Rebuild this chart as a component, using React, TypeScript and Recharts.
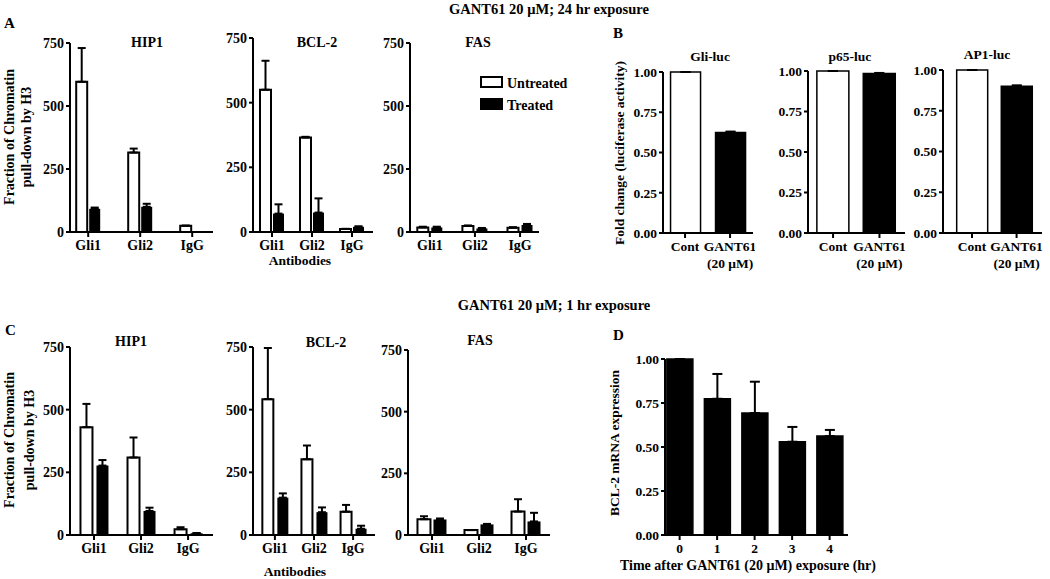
import React from "react";
import { BarChart, Bar, XAxis, YAxis, ErrorBar, Cell } from "recharts";

const FONT = "'Liberation Serif', 'Times New Roman', serif";

// categories / tick labels
const antibodies = ["Gli1", "Gli2", "IgG"];
const chipTicks = [0, 250, 500, 750];
const lucLabels = ["Cont", "GANT61\n(20 μM)"];
const foldTicks = [0, 0.25, 0.5, 0.75, 1];
const hours = ["0", "1", "2", "3", "4"];

// A: 24 hr exposure (untreated / treated, upper error)
const a24Hip1U = [596, 315, 25];
const a24Hip1UErr = [134, 16, 0];
const a24Hip1T = [92, 100, 0];
const a24Hip1TErr = [5, 12, 0];
const a24Bcl2U = [550, 365, 12];
const a24Bcl2UErr = [112, 3, 0];
const a24Bcl2T = [71, 75, 20];
const a24Bcl2TErr = [36, 55, 2];
const a24FasU = [18, 24, 17];
const a24FasUErr = [3, 2, 2];
const a24FasT = [18, 14, 28];
const a24FasTErr = [3, 2, 4];

// B: luciferase fold change
const gliLuc = [1.0, 0.625];
const gliLucErr = [0, 0.005];
const p65Luc = [1.0, 0.985];
const p65LucErr = [0, 0.003];
const ap1Luc = [1.0, 0.9];
const ap1LucErr = [0, 0.006];

// C: 1 hr exposure
const c1Hip1U = [430, 309, 23];
const c1Hip1UErr = [93, 80, 8];
const c1Hip1T = [277, 96, 7];
const c1Hip1TErr = [22, 13, 1];
const c1Bcl2U = [542, 302, 93];
const c1Bcl2UErr = [204, 55, 27];
const c1Bcl2T = [149, 91, 25];
const c1Bcl2TErr = [17, 19, 12];
const c1FasU = [64, 20, 95];
const c1FasUErr = [12, 0, 50];
const c1FasT = [63, 43, 55];
const c1FasTErr = [4, 2, 35];

// D: BCL-2 mRNA over time
const bcl2Mrna = [1.0, 0.774, 0.693, 0.53, 0.562];
const bcl2MrnaErr = [0, 0.141, 0.178, 0.084, 0.035];

const chipRows = (u: number[], ue: number[], t: number[], te: number[]) =>
  antibodies.map((name, i) => ({
    x: i,
    name,
    u: u[i],
    uErr: [0, ue[i]],
    t: t[i],
    tErr: [0, te[i]],
  }));

const singleRows = (v: number[], e: number[]) =>
  v.map((val, i) => ({ x: i, v: val, e: [0, e[i]] }));

const axisLine = { stroke: "#000", strokeWidth: 2 };

type Geo = {
  left: number;
  right: number;
  top: number;
  bottom: number;
  dMin: number;
  dMax: number;
  barSize: number;
  gap: number;
};

const Y_W = 50;
const X_H = 45;
const M_T = 6;

function Frame({ g, children }: { g: Geo; children: (w: number, h: number) => React.ReactNode }) {
  const w = Y_W + (g.right - g.left) + 2;
  const h = M_T + (g.bottom - g.top) + X_H;
  return (
    <div style={{ position: "absolute", left: g.left - Y_W, top: g.top - M_T }}>
      {children(w, h)}
    </div>
  );
}

function MultiTick(props: any) {
  const { x, y, payload, labels, size } = props;
  const label = labels[payload.value] ?? "";
  const lines = String(label).split("\n");
  return (
    <text
      x={x}
      y={y}
      textAnchor="middle"
      fontFamily={FONT}
      fontSize={size}
      fontWeight="bold"
      fill="#000"
    >
      {lines.map((l: string, i: number) => (
        <tspan key={i} x={x} dy={i === 0 ? "0.85em" : "1.2em"}>
          {l}
        </tspan>
      ))}
    </text>
  );
}

function ChipPanel({ rows, g }: { rows: any[]; g: Geo }) {
  return (
    <Frame g={g}>
      {(w, h) => (
        <BarChart
          width={w}
          height={h}
          data={rows}
          margin={{ top: M_T, right: 2, bottom: 0, left: 0 }}
          barGap={g.gap}
        >
          <XAxis
            type="number"
            dataKey="x"
            domain={[g.dMin, g.dMax]}
            ticks={[0, 1, 2]}
            interval={0}
            allowDataOverflow
            height={X_H}
            axisLine={axisLine}
            tickLine={axisLine}
            tickSize={5}
            tickMargin={1}
            tick={<MultiTick labels={antibodies} size={14} />}
          />
          <YAxis
            domain={[0, 750]}
            ticks={chipTicks}
            interval={0}
            width={Y_W}
            axisLine={axisLine}
            tickLine={axisLine}
            tickSize={4}
            tickMargin={2}
            tick={{ fontFamily: FONT, fontSize: 14, fontWeight: "bold", fill: "#000" }}
          />
          <Bar
            dataKey="u"
            fill="#fff"
            stroke="#000"
            strokeWidth={2}
            barSize={g.barSize}
            isAnimationActive={false}
          >
            <ErrorBar dataKey="uErr" width={4} stroke="#000" strokeWidth={2} direction="y" />
          </Bar>
          <Bar dataKey="t" fill="#000" barSize={g.barSize} isAnimationActive={false}>
            <ErrorBar dataKey="tErr" width={4} stroke="#000" strokeWidth={2} direction="y" />
          </Bar>
        </BarChart>
      )}
    </Frame>
  );
}

function SinglePanel({
  rows,
  g,
  labels,
  fills,
}: {
  rows: any[];
  g: Geo;
  labels: string[];
  fills: string[];
}) {
  return (
    <Frame g={g}>
      {(w, h) => (
        <BarChart
          width={w}
          height={h}
          data={rows}
          margin={{ top: M_T, right: 2, bottom: 0, left: 0 }}
          barGap={g.gap}
        >
          <XAxis
            type="number"
            dataKey="x"
            domain={[g.dMin, g.dMax]}
            ticks={labels.map((_, i) => i)}
            interval={0}
            allowDataOverflow
            height={X_H}
            axisLine={axisLine}
            tickLine={axisLine}
            tickSize={5}
            tickMargin={2}
            tick={<MultiTick labels={labels} size={13.5} />}
          />
          <YAxis
            domain={[0, 1]}
            ticks={foldTicks}
            interval={0}
            width={Y_W}
            axisLine={axisLine}
            tickLine={axisLine}
            tickSize={4}
            tickMargin={2}
            tickFormatter={(v: number) => v.toFixed(2)}
            tick={{ fontFamily: FONT, fontSize: 13.5, fontWeight: "bold", fill: "#000" }}
          />
          <Bar
            dataKey="v"
            stroke="#000"
            strokeWidth={1.5}
            barSize={g.barSize}
            isAnimationActive={false}
          >
            {rows.map((_, i) => (
              <Cell key={i} fill={fills[i % fills.length]} />
            ))}
            <ErrorBar dataKey="e" width={5} stroke="#000" strokeWidth={2} direction="y" />
          </Bar>
        </BarChart>
      )}
    </Frame>
  );
}

// layout (plot-area positions in page pixels)
const geoA1: Geo = { left: 70, right: 213, top: 43, bottom: 232, dMin: -0.35, dMax: 2.4, barSize: 11, gap: 2 };
const geoA2: Geo = { left: 253, right: 373, top: 38, bottom: 232, dMin: -0.475, dMax: 2.525, barSize: 11, gap: 2 };
const geoA3: Geo = { left: 410, right: 539, top: 43, bottom: 232, dMin: -0.44, dMax: 2.42, barSize: 11, gap: 3 };
const geoB1: Geo = { left: 663, right: 753, top: 72, bottom: 233, dMin: -0.49, dMax: 1.51, barSize: 30, gap: 0 };
const geoB2: Geo = { left: 808, right: 905, top: 71, bottom: 233, dMin: -0.54, dMax: 1.55, barSize: 32, gap: 0 };
const geoB3: Geo = { left: 943, right: 1042, top: 70, bottom: 233, dMin: -0.65, dMax: 1.57, barSize: 31, gap: 0 };
const geoC1: Geo = { left: 70, right: 213, top: 347, bottom: 535, dMin: -0.51, dMax: 2.53, barSize: 12, gap: 4 };
const geoC2: Geo = { left: 253, right: 375, top: 347, bottom: 535, dMin: -0.56, dMax: 2.56, barSize: 11, gap: 4 };
const geoC3: Geo = { left: 408, right: 550, top: 350, bottom: 535, dMin: -0.51, dMax: 2.51, barSize: 13, gap: 3 };
const geoD: Geo = { left: 665, right: 848, top: 359, bottom: 535, dMin: -0.39, dMax: 4.49, barSize: 26, gap: 0 };

function T({
  x,
  y,
  size = 14,
  anchor = "middle",
  rotate = false,
  children,
}: {
  x: number;
  y: number;
  size?: number;
  anchor?: "start" | "middle" | "end";
  rotate?: boolean;
  children: React.ReactNode;
}) {
  return (
    <text
      x={x}
      y={y}
      textAnchor={anchor}
      fontFamily={FONT}
      fontSize={size}
      fontWeight="bold"
      fill="#000"
      transform={rotate ? `rotate(-90 ${x} ${y})` : undefined}
    >
      {children}
    </text>
  );
}

export default function App() {
  return (
    <div style={{ position: "relative", width: 1050, height: 579, background: "#fff", overflow: "hidden" }}>
      <style>{"body{margin:0}"}</style>

      <ChipPanel rows={chipRows(a24Hip1U, a24Hip1UErr, a24Hip1T, a24Hip1TErr)} g={geoA1} />
      <ChipPanel rows={chipRows(a24Bcl2U, a24Bcl2UErr, a24Bcl2T, a24Bcl2TErr)} g={geoA2} />
      <ChipPanel rows={chipRows(a24FasU, a24FasUErr, a24FasT, a24FasTErr)} g={geoA3} />

      <SinglePanel rows={singleRows(gliLuc, gliLucErr)} g={geoB1} labels={lucLabels} fills={["#fff", "#000"]} />
      <SinglePanel rows={singleRows(p65Luc, p65LucErr)} g={geoB2} labels={lucLabels} fills={["#fff", "#000"]} />
      <SinglePanel rows={singleRows(ap1Luc, ap1LucErr)} g={geoB3} labels={lucLabels} fills={["#fff", "#000"]} />

      <ChipPanel rows={chipRows(c1Hip1U, c1Hip1UErr, c1Hip1T, c1Hip1TErr)} g={geoC1} />
      <ChipPanel rows={chipRows(c1Bcl2U, c1Bcl2UErr, c1Bcl2T, c1Bcl2TErr)} g={geoC2} />
      <ChipPanel rows={chipRows(c1FasU, c1FasUErr, c1FasT, c1FasTErr)} g={geoC3} />

      <SinglePanel rows={singleRows(bcl2Mrna, bcl2MrnaErr)} g={geoD} labels={hours} fills={["#000"]} />

      <svg
        width={1050}
        height={579}
        style={{ position: "absolute", left: 0, top: 0, pointerEvents: "none" }}
      >
        <T x={549} y={14} size={14.5}>GANT61 20 μM; 24 hr exposure</T>
        <T x={4} y={28} size={15} anchor="start">A</T>
        <T x={147} y={47}>HIP1</T>
        <T x={317} y={47}>BCL-2</T>
        <T x={478} y={47}>FAS</T>
        <T x={300} y={265} size={13.5}>Antibodies</T>
        <T x={14} y={137} rotate>Fraction of Chromatin</T>
        <T x={31} y={137} rotate>pull-down by H3</T>

        <rect x={481} y={77} width={21} height={10} fill="#fff" stroke="#000" strokeWidth={2} />
        <rect x={480} y={98} width={23} height={12} fill="#000" />
        <T x={507} y={88} anchor="start">Untreated</T>
        <T x={507} y={110} anchor="start">Treated</T>

        <T x={613} y={38} size={15} anchor="start">B</T>
        <T x={624} y={153} size={13.5} rotate>Fold change (luciferase activity)</T>
        <T x={710} y={61} size={13.5}>Gli-luc</T>
        <T x={850} y={61} size={13.5}>p65-luc</T>
        <T x={987} y={59} size={13.5}>AP1-luc</T>

        <T x={554} y={310} size={14.5}>GANT61 20 μM; 1 hr exposure</T>
        <T x={5} y={335} size={15} anchor="start">C</T>
        <T x={131} y={346}>HIP1</T>
        <T x={326} y={347}>BCL-2</T>
        <T x={480} y={345}>FAS</T>
        <T x={295} y={576} size={13.5}>Antibodies</T>
        <T x={14} y={440} rotate>Fraction of Chromatin</T>
        <T x={34} y={440} rotate>pull-down by H3</T>

        <T x={613} y={340} size={15} anchor="start">D</T>
        <T x={619} y={443} size={13.5} rotate>BCL-2 mRNA expression</T>
        <T x={748} y={570} size={14}>Time after GANT61 (20 μM) exposure (hr)</T>
      </svg>
    </div>
  );
}
